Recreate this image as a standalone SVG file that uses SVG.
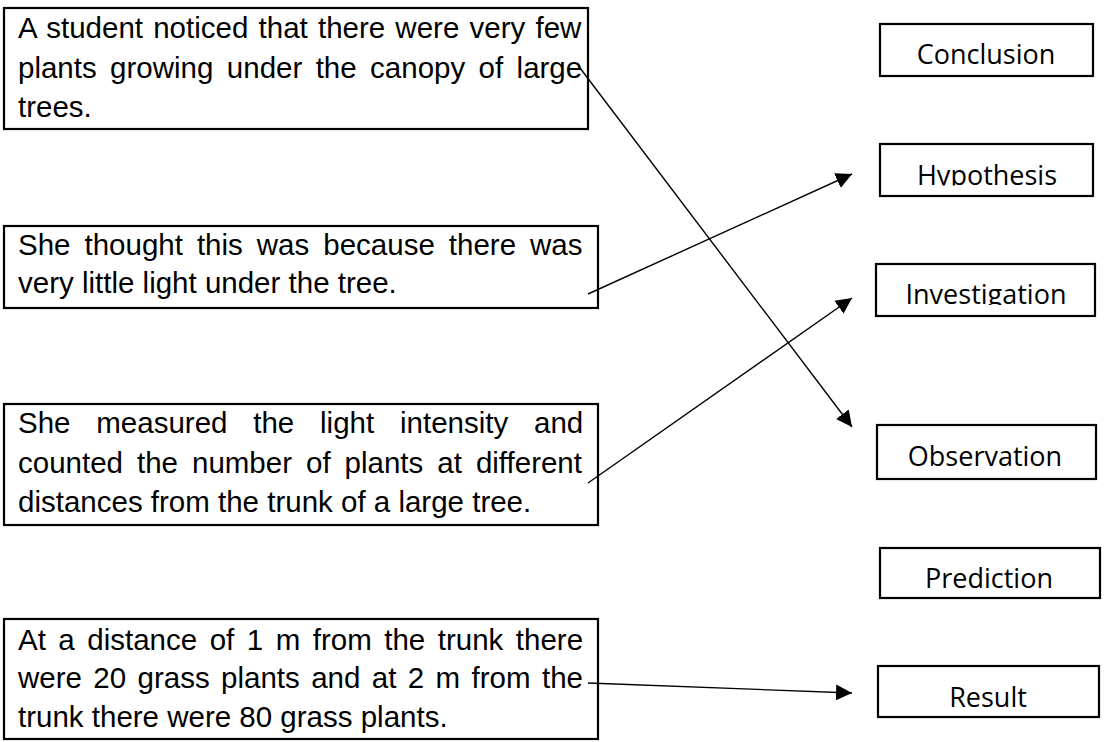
<svg xmlns="http://www.w3.org/2000/svg" width="1114" height="742" viewBox="0 0 1114 742">
<style>
.box{fill:#fff;stroke:#000;stroke-width:2.2}
.lt{font-family:"Liberation Sans",Arial,sans-serif;font-size:29.5px;fill:#000}
.rt{font-family:"Open Sans","Noto Sans",sans-serif;font-size:27px;fill:#000;text-anchor:middle}
.conn{stroke:#000;stroke-width:1.4;fill:none;marker-end:url(#ah)}
</style>
<defs>
<marker id="ah" markerUnits="userSpaceOnUse" markerWidth="17" markerHeight="16" refX="16" refY="8" orient="auto">
<path d="M0,0 L16,8 L0,16 z" fill="#000"/>
</marker>
<clipPath id="clipH"><rect x="870" y="140" width="240" height="45.5"/></clipPath>
<clipPath id="clipI"><rect x="870" y="260" width="240" height="45"/></clipPath>
</defs>
<rect width="1114" height="742" fill="#fff"/>

<g id="s1">
<rect class="box" x="4" y="8" width="584" height="121"/>
<text class="lt" x="18" y="38" word-spacing="2">A student noticed that there were very few</text>
<text class="lt" x="18" y="78" word-spacing="5.2">plants growing under the canopy of large</text>
<text class="lt" x="18" y="117">trees.</text>
</g>
<g id="s2">
<rect class="box" x="4" y="226" width="594" height="82"/>
<text class="lt" x="18" y="255" word-spacing="5.8">She thought this was because there was</text>
<text class="lt" x="18" y="293">very little light under the tree.</text>
</g>
<g id="s3">
<rect class="box" x="4" y="404" width="594" height="121"/>
<text class="lt" x="18" y="433" word-spacing="17.6">She measured the light intensity and</text>
<text class="lt" x="18" y="473" word-spacing="5.8">counted the number of plants at different</text>
<text class="lt" x="18" y="512">distances from the trunk of a large tree.</text>
</g>
<g id="s4">
<rect class="box" x="4" y="619" width="594" height="120"/>
<text class="lt" x="18" y="650" word-spacing="4.3">At a distance of 1 m from the trunk there</text>
<text class="lt" x="18" y="688" word-spacing="3.2">were 20 grass plants and at 2 m from the</text>
<text class="lt" x="18" y="727">trunk there were 80 grass plants.</text>
</g>

<g id="conclusion">
<rect class="box" x="880" y="24" width="213" height="52"/>
<text class="rt" x="986" y="64">Conclusion</text>
</g>
<g id="hypothesis">
<rect class="box" x="880" y="144" width="213" height="52"/>
<text class="rt" x="987" y="184.5" clip-path="url(#clipH)">Hypothesis</text>
</g>
<g id="investigation">
<rect class="box" x="876" y="264" width="219" height="52"/>
<text class="rt" x="986" y="304" clip-path="url(#clipI)">Investigation</text>
</g>
<g id="observation">
<rect class="box" x="877" y="425" width="219" height="54"/>
<text class="rt" x="985" y="466">Observation</text>
</g>
<g id="prediction">
<rect class="box" x="880" y="548" width="220" height="50"/>
<text class="rt" x="989" y="588">Prediction</text>
</g>
<g id="result">
<rect class="box" x="878" y="666" width="221" height="51"/>
<text class="rt" x="988" y="707">Result</text>
</g>

<g id="connectors">
<line class="conn" x1="580" y1="68" x2="852" y2="427"/>
<line class="conn" x1="588" y1="294" x2="852" y2="174"/>
<line class="conn" x1="588" y1="483" x2="852" y2="298"/>
<line class="conn" x1="588" y1="683" x2="852" y2="693"/>
</g>
</svg>
